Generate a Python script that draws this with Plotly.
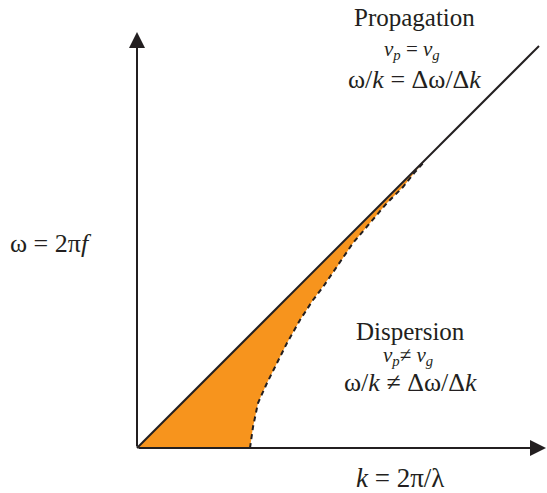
import plotly.graph_objects as go

# Data (in pixel-like units relative to origin)
line_k = [0, 402]
line_w = [0, 402]
curve_k = [113, 116, 121, 130, 140, 150, 163, 176, 186, 200, 216, 233, 250, 266, 278, 288]
curve_w = [0, 21, 45, 65, 85, 105, 128, 148, 161, 181, 205, 225, 245, 261, 276, 287]

fig = go.Figure()

merge = curve_w[-1]
poly_x = [0, merge] + curve_k[::-1] + [0]
poly_y = [0, merge] + curve_w[::-1] + [0]
fig.add_trace(go.Scatter(x=poly_x, y=poly_y, fill="toself", fillcolor="#F7941D",
                         line=dict(width=0), mode="lines", hoverinfo="skip", showlegend=False))
fig.add_trace(go.Scatter(x=curve_k, y=curve_w, mode="lines",
                         line=dict(color="#231F20", width=2, dash="5px,4px"), showlegend=False))
fig.add_trace(go.Scatter(x=line_k, y=line_w, mode="lines",
                         line=dict(color="#231F20", width=2), showlegend=False))

fig.add_annotation(x=0, y=416, ax=0, ay=0, xref="x", yref="y", axref="x", ayref="y",
                   showarrow=True, arrowhead=2, arrowsize=1.6, arrowwidth=2, arrowcolor="#231F20", text="")
fig.add_annotation(x=409, y=0, ax=0, ay=0, xref="x", yref="y", axref="x", ayref="y",
                   showarrow=True, arrowhead=2, arrowsize=1.6, arrowwidth=2, arrowcolor="#231F20", text="")

fam = "Liberation Serif, Times New Roman, serif"
texts = [
    (277, 431, "Propagation", 25),
    (275, 398, "<i>v<sub>p</sub></i> = <i>v<sub>g</sub></i>", 21),
    (277, 369, "ω/<i>k</i> = Δω/Δ<i>k</i>", 26),
    (273, 117, "Dispersion", 25),
    (271, 92, "<i>v<sub>p</sub></i>≠ <i>v<sub>g</sub></i>", 21),
    (273, 66, "ω/<i>k</i> ≠ Δω/Δ<i>k</i>", 26),
    (-86, 205, "ω = 2π<i>f</i>", 26),
    (263, -30, "<i>k</i> = 2π/λ", 27),
]
for x, y, t, s in texts:
    fig.add_annotation(x=x, y=y, xref="x", yref="y", text=t, showarrow=False,
                       font=dict(family=fam, size=s, color="#231F20"))

fig.update_layout(width=547, height=493, margin=dict(l=0, r=0, t=0, b=0, autoexpand=False),
                  plot_bgcolor="white", paper_bgcolor="white",
                  xaxis=dict(range=[-137, 410], visible=False),
                  yaxis=dict(range=[-45, 448], visible=False))
fig.write_html("out.html", config={"displayModeBar": False},
               post_script="document.body.style.margin='0';document.body.style.overflow='hidden';")
